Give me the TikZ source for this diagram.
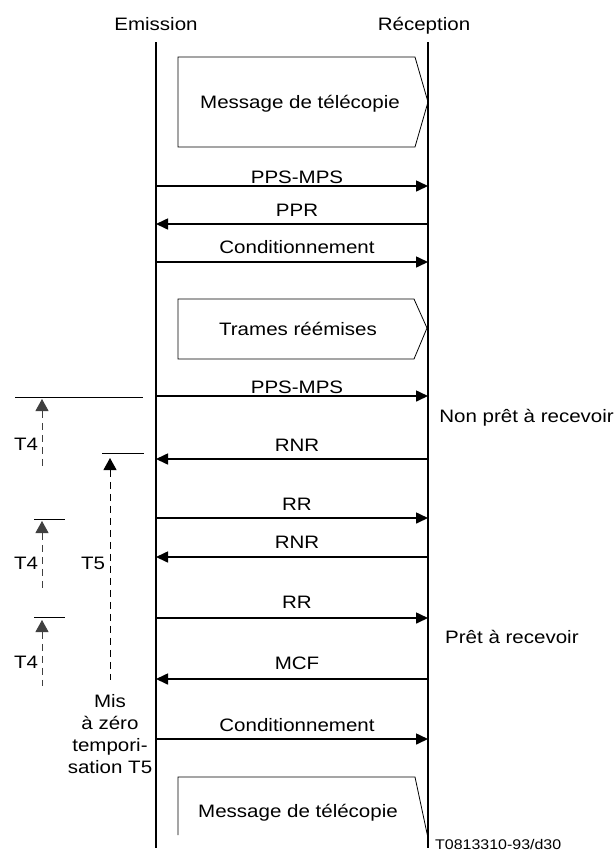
\documentclass[tikz,border=0pt]{standalone}
\usepackage{fontspec}
\setmainfont{Liberation Sans}[FakeStretch=1.14]
\usetikzlibrary{arrows.meta}
\begin{document}
\begin{tikzpicture}[x=1pt,y=-1pt,
  lbl/.style={font=\fontsize{18}{22}\selectfont, inner sep=0pt},
  small/.style={font=\fontsize{14}{16}\selectfont, inner sep=0pt},
  life/.style={line width=2pt},
  frame/.style={line width=0.8pt, line join=miter},
  msg/.style={line width=1.6pt},
  tipR/.style={-{Triangle[length=12pt,width=11pt]}},
  tipL/.style={{Triangle[length=12pt,width=11pt]}-},
  tick/.style={line width=0.8pt},
  timer/.style={line width=0.9pt, dash pattern=on 7pt off 5pt,
                {Triangle[length=12pt,width=13pt]}-},
]
\useasboundingbox (0,0) rectangle (616,852);

% headers and lifelines
\node[lbl, anchor=base] (emis)  at (156,30) {Emission};
\node[lbl, anchor=base] (recep) at (424,30) {Réception};
\coordinate (e-top) at (156,42);  \coordinate (e-bot) at (156,848);
\coordinate (r-top) at (428,42);  \coordinate (r-bot) at (428,848);
\draw[life] (e-top) -- (e-bot);
\draw[life] (r-top) -- (r-bot);

% message blocks
\draw[frame] (178,57) -- (415,57) -- (428,102) -- (415,147) -- (178,147) -- cycle;
\node[lbl, anchor=base] (fax1) at (300,108) {Message de télécopie};
\draw[frame] (178,299) -- (414,299) -- (427,328) -- (414,359) -- (178,359) -- cycle;
\node[lbl, anchor=base] (trames) at (298,335) {Trames réémises};
\draw[frame] (178,835) -- (178,777) -- (415,777) -- (428,838);
\node[lbl, anchor=base] (fax2) at (298,817) {Message de télécopie};

% signals between the two lifelines
\foreach \n/\y/\b/\txt/\dir in {
    1/186/183/PPS-MPS/tipR,
    2/224/216/PPR/tipL,
    3/262/253/Conditionnement/tipR,
    4/396/393/PPS-MPS/tipR,
    5/459/451/RNR/tipL,
    6/518/510/RR/tipR,
    7/557/548/RNR/tipL,
    8/618/608/RR/tipR,
    9/679/669/MCF/tipL,
    10/739/731/Conditionnement/tipR} {
  \coordinate (e\n) at (156,\y);
  \coordinate (r\n) at (428,\y);
  \node[lbl, anchor=base] (m\n) at (297,\b) {\txt};
  \draw[msg, \dir] (e\n) -- (r\n);
}

% receiver states
\node[lbl, anchor=base east] (nonpret) at (614,422) {Non prêt à recevoir};
\node[lbl, anchor=base west] (pret) at (445,643) {Prêt à recevoir};

% timers T4 and T5
\coordinate (k1a) at (15,397);  \coordinate (k1b) at (143,397);
\coordinate (k2a) at (102,453); \coordinate (k2b) at (144,453);
\coordinate (k3a) at (34,519);  \coordinate (k3b) at (65,519);
\coordinate (k4a) at (34,617);  \coordinate (k4b) at (65,617);
\foreach \k in {1,2,3,4} \draw[tick] (k\k a) -- (k\k b);

\coordinate (t1top) at (42,399);  \coordinate (t1bot) at (42,466);
\coordinate (t5top) at (110,458); \coordinate (t5bot) at (110,680);
\coordinate (t2top) at (42,521);  \coordinate (t2bot) at (42,591);
\coordinate (t3top) at (42,620);  \coordinate (t3bot) at (42,686);
\draw[timer, black!75] (t1top) -- (t1bot);
\draw[timer] (t5top) -- (t5bot);
\draw[timer, black!75] (t2top) -- (t2bot);
\draw[timer, black!75] (t3top) -- (t3bot);

\node[lbl] (lt1) at (26,444) {T4};
\node[lbl] (lt2) at (26,563) {T4};
\node[lbl] (lt5) at (93,563) {T5};
\node[lbl] (lt3) at (26,662) {T4};

\node[lbl, anchor=north, align=center] (reset) at (110,694)
  {Mis\\à zéro\\tempori-\\sation T5};

% figure reference
\node[small, anchor=base west] (ref) at (435,849) {T0813310-93/d30};
\end{tikzpicture}
\end{document}
